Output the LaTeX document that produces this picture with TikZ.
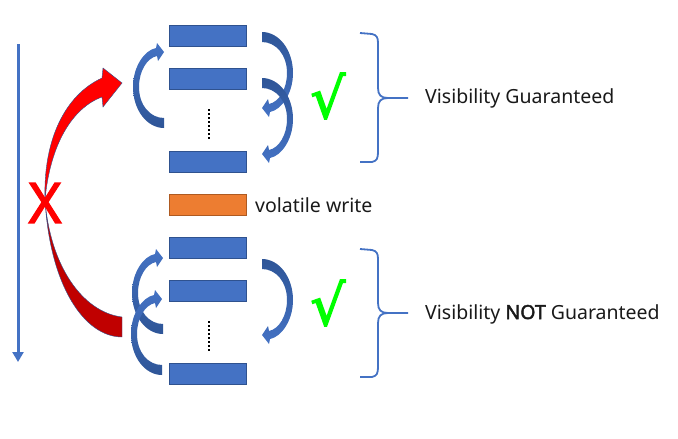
\documentclass[tikz,border=0pt]{standalone}
\usepackage{fontspec}
\setmainfont{Noto Sans}[BoldFont={Noto Sans},BoldFeatures={FakeBold=2.2}]
\newfontfamily\chkfont{DejaVu Sans}[FakeBold=2.5]
\usetikzlibrary{arrows.meta}
\definecolor{pblue}{HTML}{4472C4}
\definecolor{pbluedark}{HTML}{2F528F}
\definecolor{parcdark}{HTML}{2E5597}
\definecolor{porange}{HTML}{ED7D31}
\definecolor{porangedark}{HTML}{AE5A21}
\definecolor{pred}{HTML}{FF0000}
\definecolor{preddark}{HTML}{C00000}
\definecolor{pgreen}{HTML}{00FF00}
\tikzset{
  opbox/.style={draw=pbluedark, fill=pblue, line width=0.9pt, minimum width=77pt, minimum height=21pt, inner sep=0pt},
  volbox/.style={opbox, draw=porangedark, fill=porange},
  lbl/.style={font=\fontsize{19.5}{22}\selectfont, anchor=west, inner sep=0pt, text=black!90},
  bracestyle/.style={draw=pblue, line width=1.8pt},
  timeline/.style={draw=pblue, line width=3pt, -{Triangle[width=11pt,length=10pt]}},
  dotline/.style={line width=1.6pt, dash pattern=on 1.6pt off 2.4pt},
  chk/.style={font=\chkfont\fontsize{44}{44}\selectfont, text=pgreen, inner sep=0pt, xscale=1.25, yscale=1.27},
  leftarc/.pic={\shade[top color=pblue, bottom color=parcdark]
     (0,5) .. controls (-17,5) and (-31,-13) .. (-31,-36) .. controls (-31,-57) and (-19,-73) .. (-8,-75)
     -- (-7,-80) -- (0,-71) -- (-6,-62) -- (-7,-67) .. controls (-17,-65) and (-25,-52) .. (-25,-36)
     .. controls (-25,-18) and (-14,-5) .. (0,-5) -- cycle;},
  rightarc/.pic={\shade[top color=parcdark, bottom color=pblue, rotate=180]
     (0,5) .. controls (-17,5) and (-31,-13) .. (-31,-36) .. controls (-31,-57) and (-19,-73) .. (-8,-75)
     -- (-7,-80) -- (0,-71) -- (-6,-62) -- (-7,-67) .. controls (-17,-65) and (-25,-52) .. (-25,-36)
     .. controls (-25,-18) and (-14,-5) .. (0,-5) -- cycle;}
}
\begin{document}
\begin{tikzpicture}[x=1pt, y=-1pt]
\useasboundingbox (0,0) rectangle (678,439);

% timeline
\coordinate (tlA) at (18,44);
\coordinate (tlB) at (18,362);
\draw[timeline] (tlA) -- (tlB);

% red arrow
\fill[preddark, draw=pbluedark, line width=0.4pt]
  (122,317) .. controls (82,312) and (50,265) .. (45,200)
  .. controls (50,287) and (85,337) .. (122,337) -- cycle;
\fill[pred, draw=pbluedark, line width=0.4pt]
  (45,200) .. controls (43,140) and (65,95) .. (102,78) -- (103,68) -- (122,83) -- (103,107) -- (102,97)
  .. controls (72,108) and (50,145) .. (45,200) -- cycle;
\node[font=\bfseries\fontsize{56}{56}\selectfont, text=pred, inner sep=0pt] (x) at (45,203) {X};

% boxes
\node[opbox] (b1) at (207.5,35.5) {};
\node[opbox] (b2) at (207.5,78.5) {};
\node[opbox] (b3) at (207.5,161.5) {};
\node[volbox] (v) at (207.5,204.5) {};
\node[opbox] (b4) at (207.5,247.5) {};
\node[opbox] (b5) at (207.5,290.5) {};
\node[opbox] (b6) at (207.5,373.5) {};

\coordinate (d1a) at (209,109);
\coordinate (d1b) at (209,139);
\coordinate (d2a) at (209,321);
\coordinate (d2b) at (209,351);
\draw[dotline] (d1a) -- (d1b);
\draw[dotline] (d2a) -- (d2b);

\node[lbl] (vw) at (255,205) {volatile write};

% curved arrows
\pic at (164,123) {leftarc};
\pic at (262,37) {rightarc};
\pic at (262,83) {rightarc};
\pic at (163,329) {leftarc};
\pic at (162,370) {leftarc};
\pic at (262,264) {rightarc};

% checks
\node[chk] (c1) at (328,96) {√};
\node[chk] (c2) at (328,303) {√};

% braces
\draw[bracestyle] (360,33) -- (372,34) .. controls (377,35) and (378,38) .. (378,43) -- (378,88)
  .. controls (378,95) and (381,98) .. (388,98) -- (408,98);
\draw[bracestyle] (388,98) .. controls (381,98) and (378,101) .. (378,108) -- (378,152)
  .. controls (378,158) and (377,161) .. (372,162) -- (360,162);
\draw[bracestyle] (360,249) -- (372,250) .. controls (377,251) and (378,254) .. (378,259) -- (378,303)
  .. controls (378,310) and (381,313) .. (388,313) -- (408,313);
\draw[bracestyle] (388,313) .. controls (381,313) and (378,316) .. (378,323) -- (378,367)
  .. controls (378,373) and (377,376) .. (372,377) -- (360,377);

\node[lbl] (t1) at (425,98) {Visibility Guaranteed};
\node[lbl] (t2) at (425,314) {Visibility \textbf{NOT} Guaranteed};
\end{tikzpicture}
\end{document}
